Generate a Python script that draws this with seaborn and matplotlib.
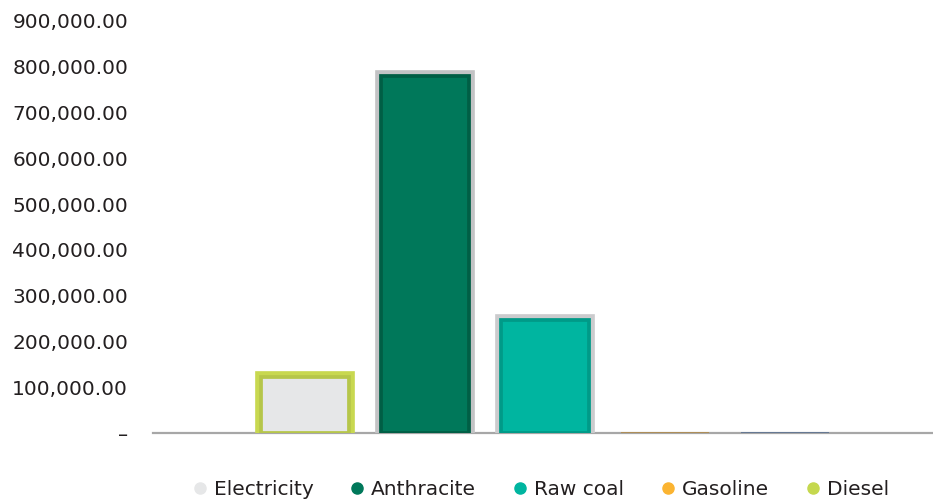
import matplotlib
matplotlib.use("Agg")
import matplotlib.pyplot as plt
import matplotlib.patheffects as pe
from matplotlib.lines import Line2D
from matplotlib.ticker import FuncFormatter
import seaborn as sns
import pandas as pd

# data
categories = ["Electricity", "Anthracite", "Raw coal", "Gasoline", "Diesel"]
values = [122000, 780000, 246000, 900, 900]

legend_colors = ["#e6e7e8", "#00785a", "#00b5a0", "#fbb431", "#c5d84e"]
bar_fills = ["#e6e7e8", "#00785a", "#00b5a0", "#b08a4a", "#5a7090"]
inner_edges = ["#b6c64a", "#005e45", "#009a88", "#b08a4a", "#5a7090"]
outer_edges = ["#c8d850", "#c3c3c5", "#cbcbcd", None, None]

sns.set_theme(style="white")
plt.rcParams["font.family"] = ["DejaVu Sans"]

df = pd.DataFrame({"fuel": categories, "value": values})

fig = plt.figure(figsize=(9.33, 5.03), dpi=100)
ax = fig.add_axes([153 / 933, 1 - 433 / 503, 1 - 153 / 933, 412 / 503])

sns.barplot(data=df, x="fuel", y="value", hue="fuel", palette=bar_fills,
            width=88 / 120, legend=False, ax=ax, saturation=1)

# double border: darker inner ring plus light outer ring
for i, p in enumerate(ax.patches):
    p.set_zorder(3)
    p.set_edgecolor(inner_edges[i])
    if outer_edges[i] is None:
        p.set_linewidth(1.2)
    else:
        p.set_linewidth(2.7)
        p.set_path_effects([pe.Stroke(linewidth=8.4, foreground=outer_edges[i]),
                            pe.Normal()])

ax.set_xlim(-1.267, 5.233)
ax.set_ylim(0, 900000)
ax.set_yticks(range(0, 900001, 100000))
ax.yaxis.set_major_formatter(FuncFormatter(lambda v, _: "–" if v == 0 else f"{v:,.2f}"))
ax.tick_params(axis="y", length=0, pad=18, labelsize=14.5, labelcolor="#231f20")
ax.set_xticks([])
ax.set_xlabel("")
ax.set_ylabel("")

for side in ["top", "left", "right"]:
    ax.spines[side].set_visible(False)
ax.spines["bottom"].set_color("#a7a7a7")
ax.spines["bottom"].set_linewidth(1.6)
ax.spines["bottom"].set_zorder(1)

handles = [Line2D([], [], marker="o", linestyle="", markersize=8,
                  markerfacecolor=c, markeredgecolor=c) for c in legend_colors]
fig.legend(handles, categories, loc="center", bbox_to_anchor=(0.578, 0.027),
           ncol=5, frameon=False, fontsize=14.5, handletextpad=0.2,
           columnspacing=1.67, handlelength=1.0, labelcolor="#231f20")

fig.savefig("out.png", dpi=100)
